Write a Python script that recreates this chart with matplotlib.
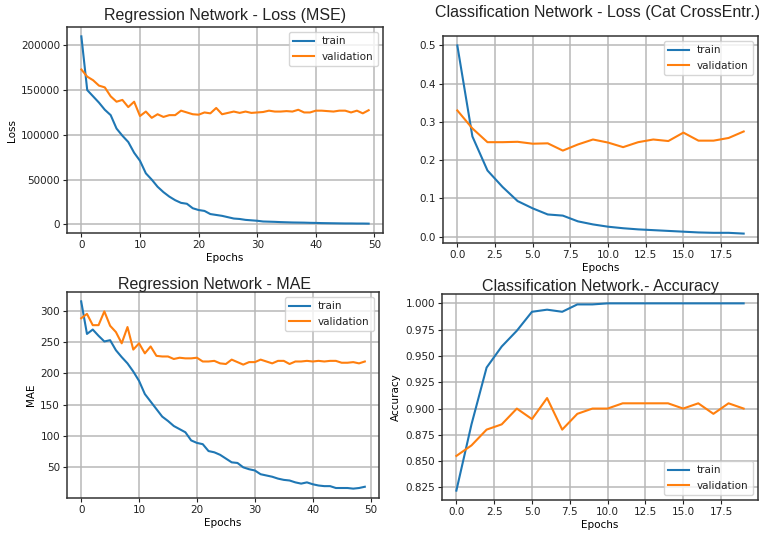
import numpy as np
import matplotlib
matplotlib.use("Agg")
import matplotlib.pyplot as plt

# Regression network history (50 epochs)
reg_epochs = list(range(50))
reg_loss_train = [210000, 150000, 143000, 136000, 128000, 122000, 107000, 99000, 92000, 80000,
                  71000, 57000, 50000, 42000, 36000, 31000, 27000, 24000, 23000, 18000,
                  16000, 15000, 11500, 10500, 9500, 8000, 6500, 6000, 5000, 4500,
                  4000, 3200, 3000, 2800, 2500, 2300, 2100, 2000, 1900, 1700,
                  1600, 1400, 1300, 1200, 1100, 1000, 1000, 900, 900, 800]
reg_loss_val = [173000, 165000, 161000, 155000, 153000, 143000, 137000, 139000, 131000, 137000,
                121000, 126000, 119000, 123000, 120000, 122000, 122000, 127000, 125000, 123000,
                122500, 125000, 124000, 130000, 123000, 124500, 126000, 124500, 126000, 124500,
                125000, 125500, 127000, 126000, 126000, 126500, 126000, 128000, 125000, 125000,
                127000, 127000, 126500, 126000, 127000, 127000, 125000, 127000, 124000, 127500]
reg_mae_train = [315, 263, 270, 260, 251, 253, 237, 226, 216, 203,
                 188, 167, 155, 143, 131, 124, 116, 111, 106, 93,
                 89, 87, 76, 74, 70, 64, 58, 57, 50, 47,
                 45, 39, 37, 35, 32, 30, 29, 26, 24, 26,
                 23, 21, 20, 20, 17, 17, 17, 16, 17, 19]
reg_mae_val = [288, 295, 277, 277, 299, 276, 266, 248, 274, 238,
               248, 232, 243, 228, 227, 227, 223, 225, 224, 224,
               225, 219, 219, 220, 216, 215, 222, 218, 214, 218,
               218, 222, 219, 216, 220, 220, 215, 219, 219, 220,
               219, 220, 219, 220, 220, 217, 217, 218, 216, 219]

# Classification network history (20 epochs)
cls_epochs = list(range(20))
cls_loss_train = [0.50, 0.262, 0.173, 0.13, 0.093, 0.074, 0.058, 0.055, 0.040, 0.032,
                  0.026, 0.022, 0.019, 0.017, 0.015, 0.013, 0.011, 0.010, 0.010, 0.008]
cls_loss_val = [0.33, 0.283, 0.247, 0.247, 0.248, 0.243, 0.244, 0.225, 0.241, 0.254,
                0.246, 0.234, 0.247, 0.254, 0.250, 0.272, 0.251, 0.251, 0.258, 0.275]
cls_acc_train = [0.822, 0.885, 0.939, 0.959, 0.974, 0.992, 0.994, 0.992, 0.999, 0.999,
                 1.0, 1.0, 1.0, 1.0, 1.0, 1.0, 1.0, 1.0, 1.0, 1.0]
cls_acc_val = [0.855, 0.865, 0.880, 0.885, 0.900, 0.890, 0.910, 0.880, 0.895, 0.900,
               0.900, 0.905, 0.905, 0.905, 0.905, 0.900, 0.905, 0.895, 0.905, 0.900]

W, H = 759, 533
plt.rcParams["font.size"] = 7.5
plt.rcParams["text.color"] = "#222222"
plt.rcParams["xtick.color"] = "#222222"
plt.rcParams["ytick.color"] = "#222222"

fig = plt.figure(figsize=(W / 100, H / 100), dpi=100)


def px_axes(left, top, right, bottom):
    return fig.add_axes([left / W, 1 - bottom / H, (right - left) / W, (bottom - top) / H])


def draw(ax, x, tr, va, title, ylabel, pad, legend_loc, title_x=0.5):
    ax.plot(x, tr, color="#1f77b4", lw=1.5, label="train")
    ax.plot(x, va, color="#ff7f0e", lw=1.5, label="validation")
    ax.set_title(title, fontsize=11.5, family="Liberation Sans", color="#222222",
                 pad=pad, x=title_x)
    ax.set_xlabel("Epochs", labelpad=2)
    ax.set_ylabel(ylabel, labelpad=3)
    ax.grid(True, color="#b8b8b8", lw=1.1)
    ax.legend(loc=legend_loc, fontsize=7.5, handlelength=2.0)
    for s in ax.spines.values():
        s.set_linewidth(1.1)
        s.set_color("#333333")
    ax.tick_params(length=3, pad=2)


ax1 = px_axes(67, 27, 383, 233)
draw(ax1, reg_epochs, reg_loss_train, reg_loss_val, "Regression Network - Loss (MSE)", "Loss", 5, "upper right")

ax2 = px_axes(443, 36, 758, 243)
draw(ax2, cls_epochs, cls_loss_train, cls_loss_val, "Classification Network - Loss (Cat CrossEntr.)", "", 14,
     "upper right", title_x=0.49)

ax3 = px_axes(67, 292, 379, 498)
draw(ax3, reg_epochs, reg_mae_train, reg_mae_val, "Regression Network - MAE", "MAE", 1, "upper right",
     title_x=0.474)
ax3.set_yticks([50, 100, 150, 200, 250, 300])

ax4 = px_axes(442, 294, 758, 500)
draw(ax4, cls_epochs, cls_acc_train, cls_acc_val, "Classification Network.- Accuracy", "Accuracy", 1, "lower right")
ax4.set_yticks(np.arange(0.825, 1.0001, 0.025))

fig.savefig("out.png", dpi=100)
